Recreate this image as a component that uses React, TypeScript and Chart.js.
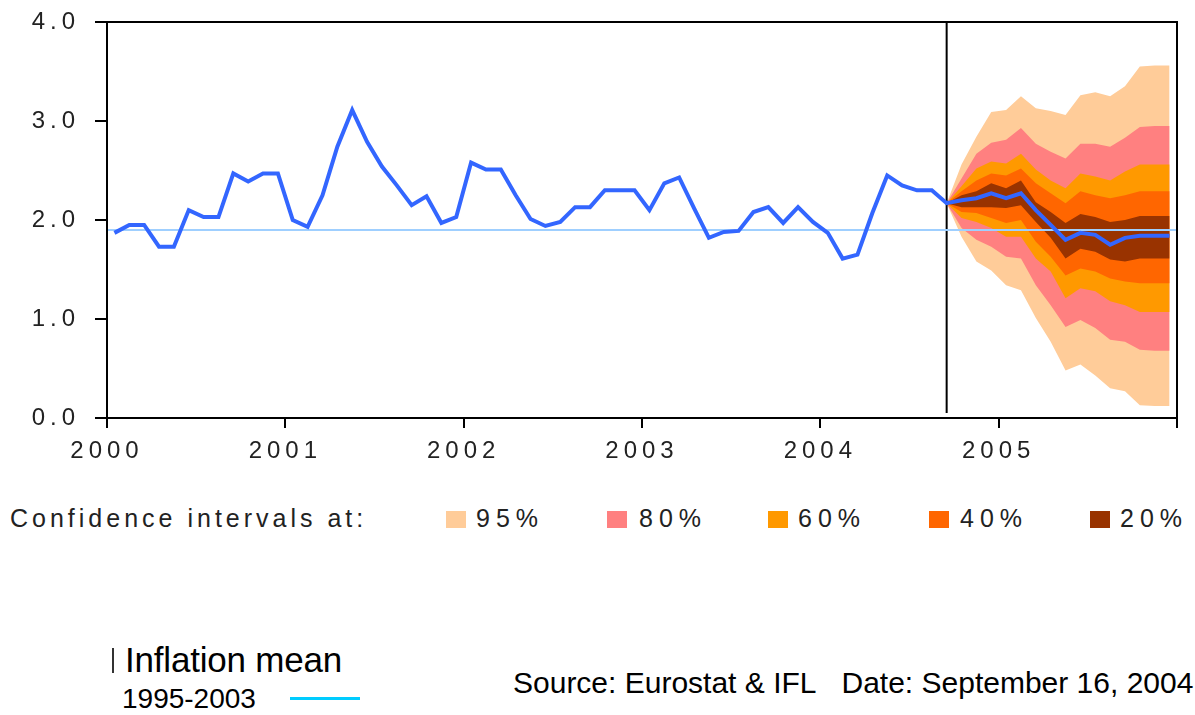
import React, { useEffect, useRef } from "react";
import { Chart, registerables } from "chart.js";

Chart.register(...registerables);

// ---- data ----
const yearLabels = ["2000", "2001", "2002", "2003", "2004", "2005"];
const monthsTotal = 72; // Jan 2000 .. Dec 2005
const projectionStart = 56; // Sep 2004 (month index)
const inflationMean = 1.9; // mean 1995-2003

// HICP annual rate, Jan 2000 .. Sep 2004
const actual = [
  1.87, 1.95, 1.95, 1.73, 1.73, 2.1, 2.03, 2.03, 2.47, 2.39, 2.47, 2.47,
  2.0, 1.93, 2.25, 2.74, 3.11, 2.79, 2.54, 2.35, 2.15, 2.24, 1.97, 2.03,
  2.58, 2.51, 2.51, 2.25, 2.01, 1.94, 1.98, 2.13, 2.13, 2.3, 2.3, 2.3,
  2.1, 2.37, 2.43, 2.12, 1.82, 1.88, 1.89, 2.08, 2.13, 1.97, 2.13, 1.98,
  1.87, 1.61, 1.65, 2.07, 2.45, 2.35, 2.3, 2.3, 2.17,
];

// central projection, Sep 2004 .. Dec 2005
const projection = [
  2.17, 2.2, 2.22, 2.27, 2.22, 2.27, 2.1, 1.95, 1.8, 1.87, 1.85, 1.75, 1.82, 1.84, 1.84, 1.84,
];

// confidence bands, Sep 2004 .. Dec 2005
const ci95Upper = [2.17, 2.56, 2.84, 3.09, 3.11, 3.25, 3.13, 3.1, 3.06, 3.26, 3.29, 3.25, 3.35, 3.55, 3.56, 3.56];
const ci95Lower = [2.17, 1.83, 1.58, 1.49, 1.34, 1.29, 1.01, 0.77, 0.48, 0.54, 0.43, 0.3, 0.27, 0.13, 0.12, 0.12];
const ci80Upper = [2.17, 2.42, 2.67, 2.78, 2.81, 2.93, 2.77, 2.69, 2.62, 2.77, 2.77, 2.74, 2.83, 2.94, 2.95, 2.95];
const ci80Lower = [2.17, 1.92, 1.8, 1.73, 1.63, 1.61, 1.34, 1.14, 0.92, 0.99, 0.91, 0.79, 0.77, 0.69, 0.68, 0.68];
const ci60Upper = [2.17, 2.34, 2.52, 2.59, 2.57, 2.67, 2.51, 2.4, 2.32, 2.47, 2.44, 2.4, 2.49, 2.56, 2.56, 2.56];
const ci60Lower = [2.17, 2.02, 1.98, 1.92, 1.83, 1.83, 1.61, 1.48, 1.21, 1.31, 1.28, 1.18, 1.14, 1.07, 1.07, 1.07];
const ci40Upper = [2.17, 2.29, 2.4, 2.47, 2.45, 2.52, 2.37, 2.27, 2.17, 2.29, 2.25, 2.22, 2.25, 2.29, 2.29, 2.29];
const ci40Lower = [2.17, 2.08, 2.07, 2.02, 1.97, 2.0, 1.78, 1.63, 1.44, 1.51, 1.48, 1.41, 1.38, 1.36, 1.36, 1.36];
const ci20Upper = [2.17, 2.25, 2.29, 2.37, 2.32, 2.4, 2.18, 2.08, 1.97, 2.06, 2.03, 1.98, 2.0, 2.04, 2.04, 2.04];
const ci20Lower = [2.17, 2.13, 2.13, 2.13, 2.12, 2.15, 1.98, 1.82, 1.61, 1.71, 1.68, 1.6, 1.58, 1.61, 1.61, 1.61];

const bandLabels = ["95%", "80%", "60%", "40%", "20%"];
const bandUppers = [ci95Upper, ci80Upper, ci60Upper, ci40Upper, ci20Upper];
const bandLowers = [ci95Lower, ci80Lower, ci60Lower, ci40Lower, ci20Lower];

// ---- styles ----
const bandColors = ["#FFCC99", "#FF8080", "#FF9900", "#FF6600", "#993300"];
const FONT = '"Liberation Sans", Arial, Helvetica, sans-serif';
const CANVAS_W = 1195;
const CANVAS_H = 490;

const frameAndSpacing = {
  id: "frameAndSpacing",
  beforeDraw(chart: any) {
    (chart.ctx as any).letterSpacing = "5px";
  },
  afterDatasetsDraw(chart: any) {
    const { ctx, chartArea } = chart;
    ctx.save();
    ctx.strokeStyle = "#000";
    ctx.lineWidth = 2;
    ctx.strokeRect(chartArea.left, chartArea.top, chartArea.right - chartArea.left, chartArea.bottom - chartArea.top);
    ctx.restore();
  },
};

export default function App() {
  const ref = useRef<HTMLCanvasElement>(null);

  useEffect(() => {
    if (!ref.current) return;
    const pts = (arr: number[], start: number) => arr.map((v, i) => ({ x: start + i + 0.5, y: v }));
    const series = actual.concat(projection.slice(1));

    const datasets: any[] = [
      {
        label: "HICP",
        data: pts(series, 0),
        borderColor: "#3366FF",
        borderWidth: 4,
        pointRadius: 0,
        fill: false,
        order: 1,
      },
      {
        label: "Inflation mean 1995-2003",
        data: [
          { x: 0, y: inflationMean },
          { x: monthsTotal, y: inflationMean },
        ],
        borderColor: "#9FCFFF",
        borderWidth: 2,
        pointRadius: 0,
        fill: false,
        order: 2,
      },
      {
        label: "projection start",
        data: [
          { x: projectionStart + 0.5, y: 0.05 },
          { x: projectionStart + 0.5, y: 4 },
        ],
        borderColor: "#000",
        borderWidth: 2,
        pointRadius: 0,
        fill: false,
        order: 3,
      },
    ];

    bandLabels.forEach((lab, k) => {
      const upIdx = datasets.length;
      datasets.push({
        label: lab + " upper",
        data: pts(bandUppers[k], projectionStart),
        borderWidth: 0,
        borderColor: "transparent",
        pointRadius: 0,
        fill: false,
        order: 40 - k * 2,
      });
      datasets.push({
        label: lab + " lower",
        data: pts(bandLowers[k], projectionStart),
        borderWidth: 0,
        borderColor: "transparent",
        backgroundColor: bandColors[k],
        pointRadius: 0,
        fill: upIdx,
        order: 39 - k * 2,
      });
    });

    const chart = new Chart(ref.current, {
      type: "line",
      data: { datasets },
      options: {
        animation: false,
        responsive: false,
        events: [],
        layout: { padding: { top: 22, right: 18, bottom: 0, left: 0 } },
        plugins: {
          legend: { display: false },
          tooltip: { enabled: false },
          filler: { drawTime: "beforeDatasetDraw" },
        } as any,
        scales: {
          x: {
            type: "linear",
            min: 0,
            max: monthsTotal,
            afterFit: (s: any) => {
              s.height = CANVAS_H - 418;
              s.paddingLeft = 0;
              s.paddingRight = 0;
            },
            ticks: {
              stepSize: 12,
              autoSkip: false,
              maxRotation: 0,
              padding: 9,
              color: "#222",
              font: { family: FONT, size: 24 },
              callback: (v: any) => {
                const k = Math.round(Number(v) / 12);
                return k < yearLabels.length ? yearLabels[k] : "";
              },
            },
            grid: { drawOnChartArea: false, drawTicks: true, tickLength: 10, color: "#000", lineWidth: 2 },
            border: { display: true, color: "#000", width: 2 },
          },
          y: {
            min: 0,
            max: 4,
            afterFit: (s: any) => {
              s.width = 107;
              s.paddingTop = 0;
              s.paddingBottom = 0;
            },
            ticks: {
              stepSize: 1,
              padding: 15,
              color: "#222",
              font: { family: FONT, size: 24 },
              callback: (v: any) => Number(v).toFixed(1),
            },
            grid: { drawOnChartArea: false, drawTicks: true, tickLength: 12, color: "#000", lineWidth: 2 },
            border: { display: true, color: "#000", width: 2 },
          },
        },
      },
      plugins: [frameAndSpacing],
    });
    return () => chart.destroy();
  }, []);

  const legendPos = [
    { sq: 446, tx: 476 },
    { sq: 607, tx: 639 },
    { sq: 768, tx: 798 },
    { sq: 929, tx: 960 },
    { sq: 1090, tx: 1120 },
  ];

  return (
    <div style={{ position: "absolute", left: 0, top: 0, width: 1195, height: 715, background: "#fff", fontFamily: FONT, color: "#222" }}>
      <canvas ref={ref} width={CANVAS_W} height={CANVAS_H} style={{ display: "block", position: "absolute", left: 0, top: 0 }} />
      <div style={{ position: "absolute", left: 10, top: 506, fontSize: 25, lineHeight: "25px", letterSpacing: 4, whiteSpace: "nowrap" }}>
        Confidence intervals at:
      </div>
      {bandLabels.map((lab, k) => (
        <React.Fragment key={lab}>
          <div style={{ position: "absolute", left: legendPos[k].sq, top: 511, width: 20, height: 17, background: bandColors[k] }} />
          <div style={{ position: "absolute", left: legendPos[k].tx, top: 506, fontSize: 25, lineHeight: "25px", letterSpacing: 6, whiteSpace: "nowrap" }}>
            {lab}
          </div>
        </React.Fragment>
      ))}
      <div style={{ position: "absolute", left: 112, top: 648, width: 2, height: 25, background: "#333" }} />
      <div style={{ position: "absolute", left: 125, top: 642, fontSize: 35, lineHeight: "35px", color: "#000", whiteSpace: "nowrap", letterSpacing: -0.2 }}>
        Inflation mean
      </div>
      <div style={{ position: "absolute", left: 122, top: 685, fontSize: 28, lineHeight: "28px", color: "#000", whiteSpace: "nowrap" }}>
        1995-2003
      </div>
      <div style={{ position: "absolute", left: 290, top: 697, width: 70, height: 3, background: "#00CCFF" }} />
      <div style={{ position: "absolute", left: 513, top: 668, fontSize: 30, lineHeight: "30px", color: "#000", whiteSpace: "nowrap" }}>
        Source: Eurostat &amp; IFL&nbsp;&nbsp; Date: September 16, 2004
      </div>
    </div>
  );
}
